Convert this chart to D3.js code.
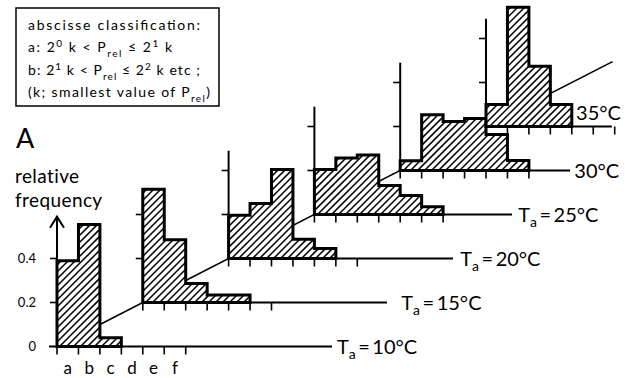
<!DOCTYPE html>
<html>
<head>
<meta charset="utf-8">
<script src="https://cdn.jsdelivr.net/npm/d3@7"></script>
<style>
  body { margin: 0; background: #fff; }
  svg { display: block; font-family: Lato, "DejaVu Sans", sans-serif; }
</style>
</head>
<body>
<svg id="chart" width="634" height="378"></svg>
<script>
// relative frequency per abscissa class, one list per ambient temperature
var temps = [10, 15, 20, 25, 30, 35];
var freq10 = [0.39, 0.555, 0.04];
var freq15 = [0.515, 0.285, 0.086, 0.034, 0.034];
var freq20 = [0.197, 0.25, 0.405, 0.088, 0.045];
var freq25 = [0.205, 0.257, 0.27, 0.132, 0.086, 0.035];
var freq30 = [0.044, 0.253, 0.223, 0.236, 0.164, 0.045];
var freq35 = [0.1, 0.542, 0.274, 0.1];
var classLabels = ["a", "b", "c", "d", "e", "f"];
var yTicks = [0, 0.2, 0.4];
var series = [freq10, freq15, freq20, freq25, freq30, freq35];

// every panel sits 4 classes right and 0.2 up from the one before
var shiftX = 4, shiftY = 0.2;
var nTicks = 7;
var lineEnd = [12.82, 15.38, 18.46, 21.21, 23.92, 25.87];
var labelAt = [13.05, 16.05, 18.8, 21.5, 24.12, 24.2];

var svg = d3.select("#chart");
var x = d3.scaleLinear().domain([0, 20]).range([57, 486]);
var y = d3.scaleLinear().domain([0, 1]).range([346.5, 126.5]);
var hatchGap = 7;

// diagonal through all origins
svg.append("line")
  .attr("x1", x(0)).attr("y1", y(0))
  .attr("x2", x(25.9)).attr("y2", y(25.9 * shiftY / shiftX))
  .attr("stroke", "#000").attr("stroke-width", 1.6);

function stepPath(vals, sx, sy) {
  var p = "M" + x(sx) + "," + y(sy);
  vals.forEach(function (v, i) {
    p += "L" + x(sx + i) + "," + y(sy + v) + "L" + x(sx + i + 1) + "," + y(sy + v);
  });
  p += "L" + x(sx + vals.length) + "," + y(sy) + "Z";
  return p;
}

// hatch segments for one class column, cut to the rectangle by hand
function hatchSegs(x1, x2, yt, yb) {
  var segs = [];
  var c = Math.ceil((x1 + yt) / hatchGap) * hatchGap;
  for (; c < x2 + yb; c += hatchGap) {
    // line x + y = c
    var ya = Math.min(yb, c - x1), yb2 = Math.max(yt, c - x2);
    if (ya > yb2) segs.push([c - ya, ya, c - yb2, yb2]);
  }
  return segs;
}

series.forEach(function (vals, k) {
  var sx = k * shiftX, sy = k * shiftY;
  var g = svg.append("g").attr("class", "panel");
  var x0 = x(sx), y0 = y(sy);

  // baseline
  g.append("line")
    .attr("x1", k === 0 ? x0 - 8 : x0).attr("y1", y0)
    .attr("x2", x(lineEnd[k])).attr("y2", y0)
    .attr("stroke", "#000").attr("stroke-width", 2);

  // vertical axis
  var top = k === 0 ? 0.59 : 0.49;
  g.append("line")
    .attr("x1", x0).attr("y1", y0).attr("x2", x0).attr("y2", y(sy + top))
    .attr("stroke", "#000").attr("stroke-width", 2);
  if (k === 0) {
    g.append("path")
      .attr("d", "M" + (x0 - 7) + "," + (y(top) + 11) + "L" + x0 + "," + y(top) +
        "L" + (x0 + 7) + "," + (y(top) + 11))
      .attr("fill", "none").attr("stroke", "#000").attr("stroke-width", 2);
  }

  g.selectAll(".ytick").data(yTicks.slice(1)).enter().append("line")
    .attr("x1", x0 - 7).attr("x2", x0)
    .attr("y1", function (d) { return y(sy + d); })
    .attr("y2", function (d) { return y(sy + d); })
    .attr("stroke", "#000").attr("stroke-width", 1.6);

  g.selectAll(".xtick").data(d3.range(nTicks)).enter().append("line")
    .attr("x1", function (d) { return x(sx + d); })
    .attr("x2", function (d) { return x(sx + d); })
    .attr("y1", y0).attr("y2", y0 + 8)
    .attr("stroke", "#000").attr("stroke-width", 1.6);

  var d = stepPath(vals, sx, sy);
  g.append("path").attr("d", d).attr("fill", "#fff");

  var segs = [];
  vals.forEach(function (v, i) {
    segs = segs.concat(hatchSegs(x(sx + i), x(sx + i + 1), y(sy + v), y0));
  });
  g.append("path")
    .attr("d", segs.map(function (s) {
      return "M" + s[0] + "," + s[1] + "L" + s[2] + "," + s[3];
    }).join(""))
    .attr("fill", "none")
    .attr("stroke", "#000").attr("stroke-width", 1.5);

  g.append("path")
    .attr("d", d)
    .attr("fill", "none")
    .attr("stroke", "#000").attr("stroke-width", 3)
    .attr("stroke-linejoin", "miter");

  // temperature label
  var t = g.append("text")
    .attr("x", x(labelAt[k]))
    .attr("y", k === 5 ? y0 - 7 : y0 + 7.5)
    .attr("font-size", 20);
  if (k < 4) {
    t.append("tspan").text("T");
    t.append("tspan").attr("dy", 5).attr("font-size", 14).text("a");
    t.append("tspan").attr("dy", -5).text("\u2009=\u2009" + temps[k] + "°C");
  } else {
    t.text(temps[k] + "°C");
  }
});

// panel 1 axis labels
svg.selectAll(".ylab").data(yTicks).enter().append("text")
  .attr("x", 36).attr("y", function (d) { return y(d) + 4.5; })
  .attr("text-anchor", "end").attr("font-size", 13)
  .text(function (d) { return d === 0 ? "0" : d3.format(".1f")(d); });

svg.selectAll(".xlab").data(classLabels).enter().append("text")
  .attr("x", function (d, i) { return x(i + 0.5); })
  .attr("y", y(0) + 27)
  .attr("text-anchor", "middle").attr("font-size", 17)
  .text(function (d) { return d; });

svg.append("text").attr("x", 15).attr("y", 183).attr("font-size", 19)
  .attr("letter-spacing", 0.4).text("relative");
svg.append("text").attr("x", 15).attr("y", 207).attr("font-size", 19)
  .attr("letter-spacing", 0.4).text("frequency");
svg.append("text").attr("x", 16).attr("y", 148).attr("font-size", 27).text("A");

// legend box
svg.append("rect")
  .attr("x", 16).attr("y", 8).attr("width", 203).attr("height", 98)
  .attr("fill", "none").attr("stroke", "#000").attr("stroke-width", 1.5);

var box = [
  [["abscisse classification:", 0]],
  [["a: 2", 0], ["0", -1], [" k < P", 0], ["rel", 1], [" \u2264 2", 0], ["1", -1], [" k", 0]],
  [["b: 2", 0], ["1", -1], [" k < P", 0], ["rel", 1], [" \u2264 2", 0], ["2", -1], [" k  etc ;", 0]],
  [["(k; smallest value of P", 0], ["rel", 1], [")", 0]]
];
var boxWidths = [172, 144, 172, 182];
box.forEach(function (parts, i) {
  var t = svg.append("text").attr("x", 28).attr("y", 30 + i * 22.3).attr("font-size", 14)
    .attr("textLength", boxWidths[i]).attr("lengthAdjust", "spacing");
  var level = 0;
  parts.forEach(function (p) {
    var dy = p[1] * 5 - level * 5;
    level = p[1];
    t.append("tspan")
      .attr("dy", dy)
      .attr("font-size", p[1] === 0 ? 14 : 10)
      .text(p[0]);
  });
});
</script>
</body>
</html>
